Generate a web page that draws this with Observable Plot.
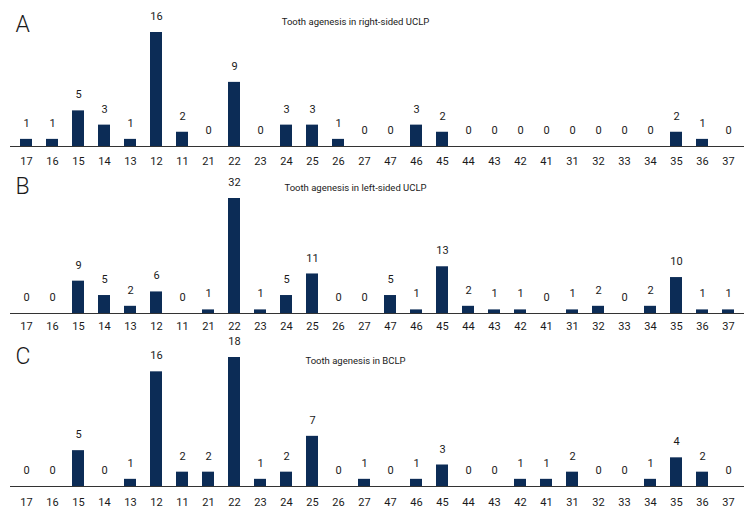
<!DOCTYPE html>
<html>
<head>
<meta charset="utf-8">
<script src="https://cdn.jsdelivr.net/npm/d3@7"></script>
<script src="https://cdn.jsdelivr.net/npm/@observablehq/plot@0.6"></script>
<style>
  body { margin: 0; background: #fff; }
  #chart svg { display: block; }
</style>
</head>
<body>
<div id="chart"></div>
<script>
const teeth = ["17","16","15","14","13","12","11","21","22","23","24","25","26","27","47","46","45","44","43","42","41","31","32","33","34","35","36","37"];
const rightUCLP = [1,1,5,3,1,16,2,0,9,0,3,3,1,0,0,3,2,0,0,0,0,0,0,0,0,2,1,0];
const leftUCLP  = [0,0,9,5,2,6,0,1,32,1,5,11,0,0,5,1,13,2,1,1,0,1,2,0,2,10,1,1];
const bclp      = [0,0,5,0,1,16,2,2,18,1,2,7,0,1,0,1,3,0,0,1,1,2,0,0,1,4,2,0];
const panelLetters = ["A","B","C"];
const panelTitles = ["Tooth agenesis in right-sided UCLP","Tooth agenesis in left-sided UCLP","Tooth agenesis in BCLP"];

const FONT = "Roboto, 'Noto Sans', sans-serif";
const BAR = "#0c2c56";

const layouts = [
  {values: rightUCLP, height: 168, marginTop: 32, marginBottom: 22, ymax: 16, tickPadding: 11, titleY: 21, letterY: 24},
  {values: leftUCLP,  height: 165, marginTop: 30, marginBottom: 20, ymax: 32, tickPadding: 9,  titleY: 19, letterY: 18},
  {values: bclp,      height: 183, marginTop: 24, marginBottom: 30, ymax: 18, tickPadding: 12, titleY: 27, letterY: 23}
];

const root = document.getElementById("chart");
layouts.forEach((L, k) => {
  const data = teeth.map((t, i) => ({tooth: t, n: L.values[i]}));
  const ml = 10, mr = 12;
  const fig = Plot.plot({
    width: 756,
    height: L.height,
    marginLeft: ml,
    marginRight: mr,
    marginTop: L.marginTop,
    marginBottom: L.marginBottom,
    style: {fontFamily: FONT, fontSize: "11px", color: "#1a1a1a", background: "#fff"},
    x: {type: "band", domain: teeth, paddingInner: 0.54, paddingOuter: 0.29, label: null},
    y: {domain: [0, L.ymax], axis: null},
    marks: [
      Plot.barY(data, {x: "tooth", y: "n", fill: BAR}),
      Plot.ruleY([0], {stroke: "#333", strokeWidth: 1}),
      Plot.text(data, {x: "tooth", y: "n", text: d => String(d.n), dy: -16, lineAnchor: "middle", fontSize: 11, fill: "#1a1a1a"}),
      Plot.axisX({tickSize: 0, tickPadding: L.tickPadding, fontSize: 11, label: null, stroke: "none"}),
      Plot.text([panelTitles[k]], {frameAnchor: "top", text: d => d, dx: 355 - (ml + (756 - ml - mr) / 2), dy: L.titleY - L.marginTop, lineAnchor: "middle", fontSize: 9.5, fill: "#1a1a1a"}),
      Plot.text([panelLetters[k]], {frameAnchor: "top-left", text: d => d, dx: 15 - ml, dy: L.letterY - L.marginTop, textAnchor: "start", lineAnchor: "middle", fontSize: 23, fontWeight: 300, fill: "#1a1a1a"})
    ]
  });
  root.appendChild(fig);
});
</script>
</body>
</html>
